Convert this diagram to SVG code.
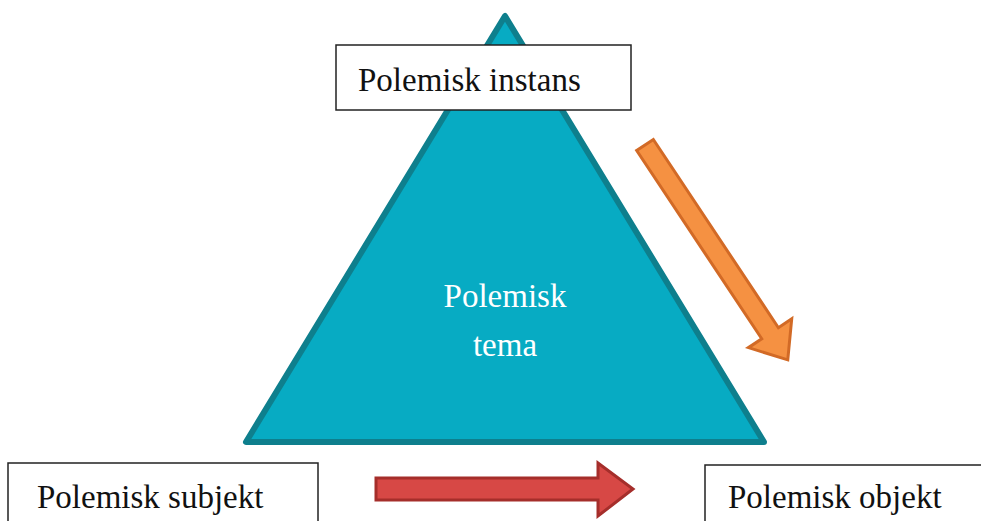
<svg xmlns="http://www.w3.org/2000/svg" width="981" height="521" viewBox="0 0 981 521">
<style>
.box{fill:#fff;stroke:#222;stroke-width:1.5}
.lbl{font-size:33px;fill:#111}
.wl{font-size:33px;fill:#fff;text-anchor:middle}
</style>
<rect width="981" height="521" fill="#fff"/>
<g id="tema">
<polygon points="505,16 246,442 764,442" fill="#07abc3" stroke="#0e7f8d" stroke-width="6" stroke-linejoin="round"/>
<text class="wl" font-family="Liberation Serif, Tinos, Noto Serif, DejaVu Serif, FreeSerif, serif" x="505" y="307">Polemisk</text>
<text class="wl" font-family="Liberation Serif, Tinos, Noto Serif, DejaVu Serif, FreeSerif, serif" x="505" y="356">tema</text>
</g>
<g id="instans">
<rect class="box" x="336" y="45" width="295" height="65"/>
<text class="lbl" font-family="Liberation Serif, Tinos, Noto Serif, DejaVu Serif, FreeSerif, serif" x="358" y="91">Polemisk instans</text>
</g>
<g id="subjekt">
<rect class="box" x="8" y="463" width="310" height="70"/>
<text class="lbl" font-family="Liberation Serif, Tinos, Noto Serif, DejaVu Serif, FreeSerif, serif" x="37" y="508">Polemisk subjekt</text>
</g>
<g id="objekt">
<rect class="box" x="705" y="465" width="290" height="70"/>
<text class="lbl" font-family="Liberation Serif, Tinos, Noto Serif, DejaVu Serif, FreeSerif, serif" x="728" y="508">Polemisk objekt</text>
</g>
<g id="connectors">
<polygon transform="translate(645,145) rotate(56.4)" points="0,-10 226,-10 226,-26 258,0 226,26 226,10 0,10" fill="#f59142" stroke="#d26a26" stroke-width="3" stroke-linejoin="miter"/>
<polygon points="376,478 598,478 598,463 633,489 598,516 598,500 376,500" fill="#d74845" stroke="#a52e2b" stroke-width="3"/>
</g>
</svg>
